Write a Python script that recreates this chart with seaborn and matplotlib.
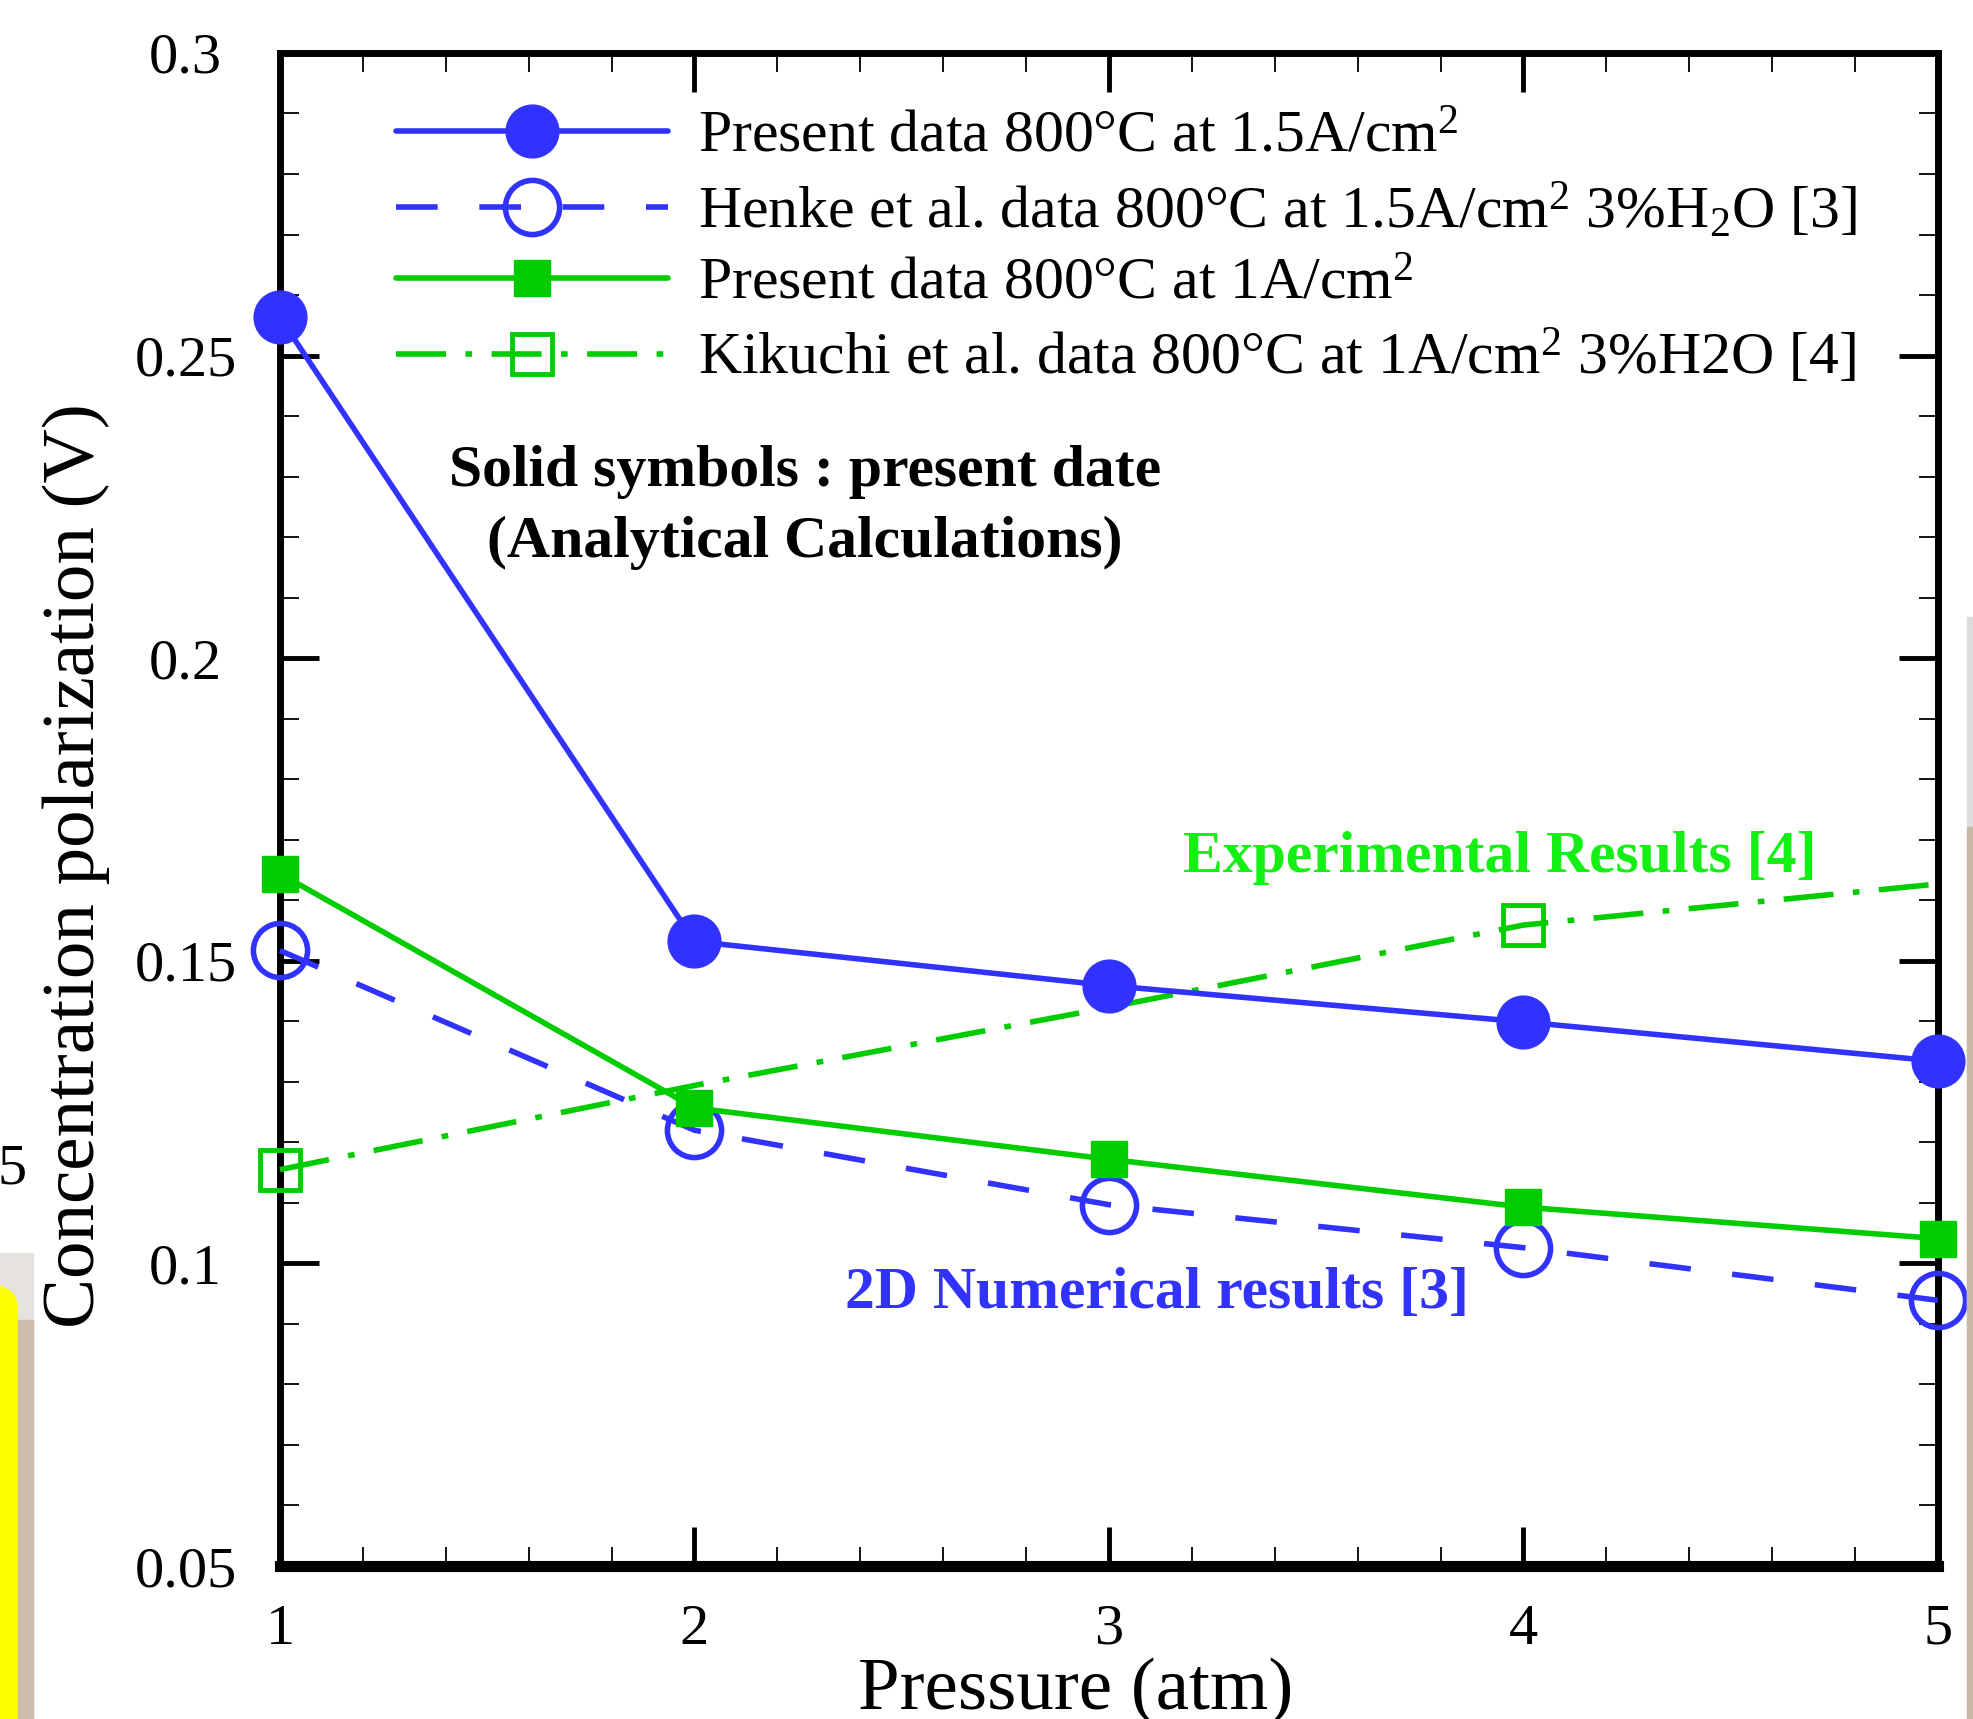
import matplotlib
matplotlib.use("Agg")
import matplotlib.pyplot as plt
import seaborn as sns
from matplotlib.lines import Line2D
from matplotlib.patches import Rectangle, FancyBboxPatch
from matplotlib.ticker import MultipleLocator, FormatStrFormatter

### ---------------- data ----------------
pressure = [1, 2, 3, 4, 5]
present_15 = [0.2563, 0.1532, 0.1459, 0.1399, 0.1334]
henke_15 = [0.1517, 0.1220, 0.1097, 0.1026, 0.0939]
present_10 = [0.1644, 0.1257, 0.1172, 0.1093, 0.1041]
kikuchi_10 = [0.1155, 0.1294, 0.1423, 0.1559, 0.1627]
kikuchi_marked = [0, 3]   # only these points carry a symbol

labels = [
    "Present data 800°C at 1.5A/cm$^2$",
    "Henke et al. data 800°C at 1.5A/cm$^2$ 3%H$_2$O [3]",
    "Present data 800°C at 1A/cm$^2$",
    "Kikuchi et al. data 800°C at 1A/cm$^2$ 3%H2O [4]",
]

blue = "#3232ff"
green = "#00cc00"
green_txt = "#14f014"

### ---------------- style ----------------
sns.set_style("ticks")
plt.rcParams["font.family"] = ["Liberation Serif", "DejaVu Serif"]
plt.rcParams["mathtext.fontset"] = "custom"
plt.rcParams["mathtext.rm"] = "Liberation Serif"
plt.rcParams["mathtext.it"] = "Liberation Serif:italic"
plt.rcParams["mathtext.bf"] = "Liberation Serif:bold"
for k in ["text.color", "axes.labelcolor", "axes.edgecolor", "xtick.color", "ytick.color"]:
    plt.rcParams[k] = "black"

fig = plt.figure(figsize=(19.73, 17.19), dpi=100)
ax = fig.add_axes([0.1419, 0.0890, 0.8403, 0.8802])

dash_b = (0, (7.5, 7.5))
dash_g = (0, (9, 3.5, 1.2, 3.5))

sns.lineplot(x=pressure, y=present_15, ax=ax, color=blue, lw=4, marker="o", ms=38,
             mfc=blue, mec=blue, mew=1, errorbar=None, clip_on=False, zorder=5)
sns.lineplot(x=pressure, y=henke_15, ax=ax, color=blue, lw=4, linestyle=dash_b, marker="o",
             ms=39, mfc="none", mec=blue, mew=4, errorbar=None, clip_on=False, zorder=4)
sns.lineplot(x=pressure, y=present_10, ax=ax, color=green, lw=4, marker="s", ms=26,
             mfc=green, mec=green, mew=1, errorbar=None, clip_on=False, zorder=5)
sns.lineplot(x=pressure, y=kikuchi_10, ax=ax, color=green, lw=4, linestyle=dash_g, marker="s",
             ms=29, mfc="none", mec=green, mew=3.5, markevery=kikuchi_marked,
             errorbar=None, clip_on=False, zorder=4)

ax.set_xlim(1, 5)
ax.set_ylim(0.05, 0.3)
ax.xaxis.set_major_locator(MultipleLocator(1))
ax.xaxis.set_minor_locator(MultipleLocator(0.2))
ax.yaxis.set_major_locator(MultipleLocator(0.05))
ax.yaxis.set_minor_locator(MultipleLocator(0.01))
ax.yaxis.set_major_formatter(FormatStrFormatter("%g"))

ax.tick_params(which="both", direction="in", top=True, right=True, colors="black")
ax.tick_params(which="major", length=28, width=3.5, labelsize=42)
ax.tick_params(which="minor", length=14, width=1.3)
ax.tick_params(axis="y", which="major", pad=68)
ax.tick_params(axis="x", which="major", pad=27)
for lab in ax.get_yticklabels():
    lab.set_horizontalalignment("center")

for side in ["left", "right", "top"]:
    ax.spines[side].set_linewidth(5)
ax.spines["bottom"].set_linewidth(8)

ax.set_xlabel("Pressure (atm)", fontsize=54, va="baseline")
ax.xaxis.set_label_coords(0.480, -0.0945)
ax.set_ylabel("Concentration polarization (V)", fontsize=54)
ax.yaxis.set_label_coords(-0.1025, 0.4627)

# legend
handles = [
    Line2D([], [], color=blue, lw=4, marker="o", ms=38, mfc=blue, mec=blue),
    Line2D([], [], color=blue, lw=4, linestyle=dash_b, marker="o", ms=39, mfc="none", mec=blue, mew=4),
    Line2D([], [], color=green, lw=4, marker="s", ms=26, mfc=green, mec=green),
    Line2D([], [], color=green, lw=4, linestyle=dash_g, marker="s", ms=29, mfc="none", mec=green, mew=3.5),
]
leg = ax.legend(handles, labels, loc="upper left", bbox_to_anchor=(0.070, 0.962),
                frameon=False, fontsize=43, handlelength=4.55, handletextpad=0.5,
                labelspacing=0.27, borderaxespad=0, borderpad=0)

# annotations
ax.text(2.267, 0.2285, "Solid symbols : present date", fontsize=43, fontweight="bold",
        ha="center", va="baseline")
ax.text(2.267, 0.2167, "(Analytical Calculations)", fontsize=43, fontweight="bold",
        ha="center", va="baseline")
ax.text(3.943, 0.1647, "Experimental Results [4]", fontsize=43, fontweight="bold",
        color=green_txt, ha="center", va="baseline")
ax.text(3.116, 0.0926, "2D Numerical results [3]", fontsize=43, fontweight="bold",
        color=blue, ha="center", va="baseline")

# bits of the neighbouring page seen at the edges of the screenshot
W, H = 1973.0, 1719.0
fig.patches.append(Rectangle((0, 0), 33 / W, 1 - 1253 / H, transform=fig.transFigure,
                             color="#e6e2de", zorder=0))
fig.patches.append(Rectangle((17 / W, 0), 16 / W, 1 - 1320 / H, transform=fig.transFigure,
                             color="#cbbcac", zorder=0))
fig.patches.append(FancyBboxPatch((-20 / W, -20 / H), 37 / W, (1719 - 1287 + 20) / H,
                                  boxstyle="round,pad=0,rounding_size=0.012",
                                  transform=fig.transFigure, color="#ffff00", zorder=0,
                                  mutation_aspect=1))
fig.patches.append(Rectangle((1967 / W, 0), 6 / W, 1 - 617 / H, transform=fig.transFigure,
                             color="#dcdcdc", zorder=0))
fig.patches.append(Rectangle((1967 / W, 0), 6 / W, 1 - 827 / H, transform=fig.transFigure,
                             color="#c8b8a6", zorder=0))
fig.text(12 / W, 1 - 1184 / H, "5", fontsize=42, ha="center", va="baseline")

fig.savefig("out.png", dpi=100)
